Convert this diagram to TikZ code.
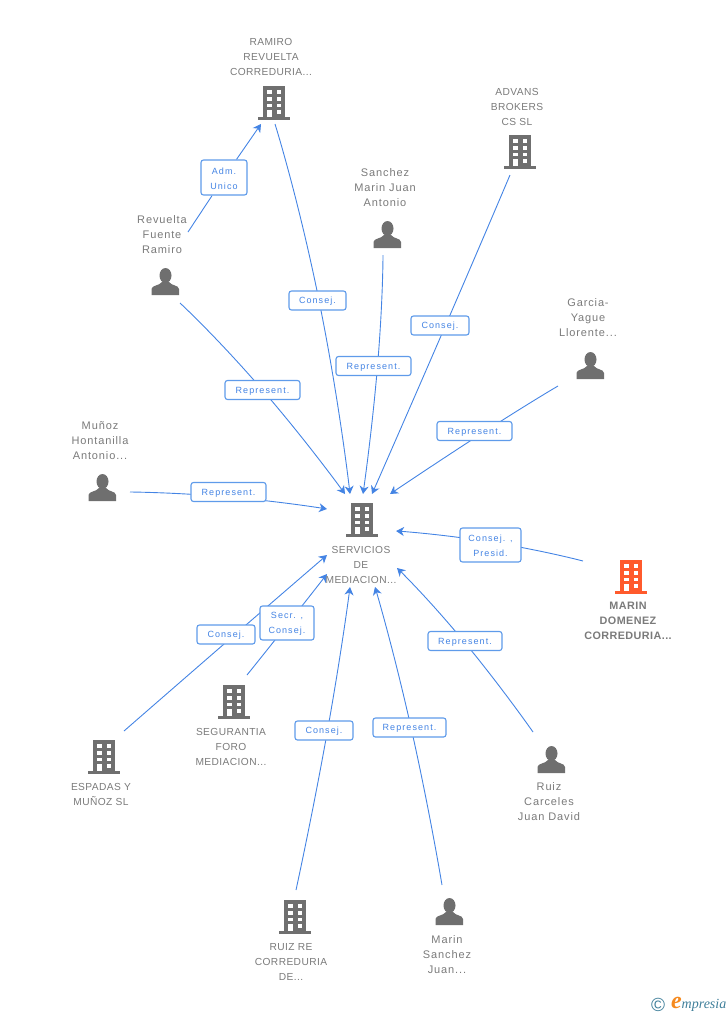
\documentclass[tikz,border=0pt]{standalone}
\usepackage{fontspec}
\setmainfont{Liberation Sans}
\newfontfamily\namefont[LetterSpace=4]{Liberation Sans}
\newfontfamily\lowerfont[LetterSpace=8]{Liberation Sans}
\newfontfamily\tagfont[LetterSpace=12]{Liberation Sans}
\newfontfamily\logofont{Liberation Serif}
\usepackage{xcolor}
\usetikzlibrary{arrows.meta, positioning, backgrounds}
\definecolor{icongray}{HTML}{6F6F6F}
\definecolor{namegray}{HTML}{7A7A7A}
\definecolor{linkblue}{HTML}{4484E4}
\definecolor{tagborder}{HTML}{5F9BEA}
\definecolor{hotorange}{HTML}{FF5A2C}
\definecolor{logoteal}{HTML}{3F7F9A}
\definecolor{logoorange}{HTML}{F58A1F}

\begin{document}
\begin{tikzpicture}[
    x=1pt, y=-1pt,
    iconspot/.style={minimum width=30pt, minimum height=34pt, inner sep=0pt},
    caption/.style={text=namegray, align=center, inner sep=0pt, font=\namefont\fontsize{10.2}{15}\selectfont},
    lowercaption/.style={caption, font=\lowerfont\fontsize{11}{15}\selectfont},
    tagtwo/.style={rectangle, draw=tagborder, fill=white, rounded corners=2.5pt, line width=1.1pt, text=linkblue, align=center, minimum height=34pt, inner sep=0pt, font=\tagfont\fontsize{9}{15}\selectfont},
    tag/.style={tagtwo, minimum height=19pt, text height=8.5pt},
    link/.style={draw=linkblue, line width=0.9pt, -{Stealth[length=8pt,width=9pt,inset=2.5pt]}},
    curved/.style={smooth, tension=1},
    building/.pic={
        \fill[pic actions] (-10.7,-17) rectangle (11.3,14);
        \fill[pic actions] (-15.7,14) rectangle (16,17);
        \foreach \wy in {-12.7,-5.7,0.6} {
            \fill[white] (-7,\wy) rectangle (-2.3,\wy+3.8);
            \fill[white] (2.7,\wy) rectangle (7.3,\wy+3.8);
        }
        \fill[white] (2.7,7) rectangle (7.3,11);
        \fill[white] (-7,7) rectangle (-2.3,14);
    },
    person/.pic={
        \fill[pic actions] (0.5,-6.5) ellipse (6 and 7.5);
        \fill[pic actions] (-13.5,13) -- (-13.5,7) .. controls (-13,3) and (-6,4) .. (-3,0) -- (4,0) .. controls (7,4) and (13.5,3) .. (14,7) -- (14,13) -- cycle;
    }
]
\useasboundingbox (0,0) rectangle (728,1015);

% icons
\node[iconspot] (ramiro) at (274,103) {};
\node[iconspot] (advans) at (520,152) {};
\node[iconspot] (sanchez) at (387,235) {};
\node[iconspot] (garcia) at (590,366) {};
\node[iconspot] (revuelta) at (165,282) {};
\node[iconspot] (munoz) at (102,488) {};
\node[iconspot] (servicios) at (362,520) {};
\node[iconspot] (domenez) at (631,577) {};
\node[iconspot] (carceles) at (551,760) {};
\node[iconspot] (juan) at (449,912) {};
\node[iconspot] (ruizre) at (295,917) {};
\node[iconspot] (segurantia) at (234,702) {};
\node[iconspot] (espadas) at (104,757) {};

\pic[icongray] at (ramiro) {building};
\pic[icongray] at (advans) {building};
\pic[icongray] at (servicios) {building};
\pic[hotorange] at (domenez) {building};
\pic[icongray] at (ruizre) {building};
\pic[icongray] at (segurantia) {building};
\pic[icongray] at (espadas) {building};
\pic[icongray] at (sanchez) {person};
\pic[icongray] at (garcia) {person};
\pic[icongray] at (revuelta) {person};
\pic[icongray] at (munoz) {person};
\pic[icongray] at (carceles) {person};
\pic[icongray] at (juan) {person};

% names
\node[caption, above=10pt of ramiro, xshift=-3pt] (ramiro-name) {RAMIRO\\REVUELTA\\CORREDURIA...};
\node[caption, above=9pt of advans, xshift=-3pt] (advans-name) {ADVANS\\BROKERS\\CS SL};
\node[lowercaption, above=11pt of sanchez, xshift=-2pt] (sanchez-name) {Sanchez\\Marin Juan\\Antonio};
\node[lowercaption, above=12pt of garcia, xshift=-2pt] (garcia-name) {Garcia-\\Yague\\Llorente...};
\node[lowercaption, above=11pt of revuelta, xshift=-3pt] (revuelta-name) {Revuelta\\Fuente\\Ramiro};
\node[lowercaption, above=11pt of munoz, xshift=-2pt] (munoz-name) {Muñoz\\Hontanilla\\Antonio...};
\node[caption, below=9pt of servicios, xshift=-1pt] (servicios-name) {SERVICIOS\\DE\\MEDIACION...};
\node[caption, below=8pt of domenez, xshift=-3pt, font=\namefont\bfseries\fontsize{10.8}{15}\selectfont] (domenez-name) {MARIN\\DOMENEZ\\CORREDURIA...};
\node[lowercaption, below=5pt of carceles, xshift=-2pt] (carceles-name) {Ruiz\\Carceles\\Juan David};
\node[lowercaption, below=6pt of juan, xshift=-2pt] (juan-name) {Marin\\Sanchez\\Juan...};
\node[caption, below=9pt of ruizre, xshift=-4pt] (ruizre-name) {RUIZ RE\\CORREDURIA\\DE...};
\node[caption, below=9pt of segurantia, xshift=-3pt] (segurantia-name) {SEGURANTIA\\FORO\\MEDIACION...};
\node[caption, below=9pt of espadas, xshift=-3pt] (espadas-name) {ESPADAS Y\\MUÑOZ SL};

% tags
\node[tagtwo, minimum width=46pt, minimum height=35pt] (tag-adm) at (224,177.5) {\rule{0pt}{8.5pt}Adm.\\Unico};
\node[tag, minimum width=57pt] (tag-ramiro) at (317.5,300.5) {Consej.};
\node[tag, minimum width=58pt] (tag-advans) at (440,325.5) {Consej.};
\node[tag, minimum width=75pt] (tag-sanchez) at (373.5,366) {Represent.};
\node[tag, minimum width=75pt] (tag-revuelta) at (262.5,390) {Represent.};
\node[tag, minimum width=75pt] (tag-garcia) at (474.5,431) {Represent.};
\node[tag, minimum width=75pt] (tag-munoz) at (228.5,492) {Represent.};
\node[tagtwo, minimum width=61pt] (tag-domenez) at (490.5,545) {\rule{0pt}{8.5pt}Consej. ,\\Presid.};
\node[tagtwo, minimum width=54pt] (tag-segurantia) at (287,623) {\rule{0pt}{8.5pt}Secr. ,\\Consej.};
\node[tag, minimum width=58pt] (tag-espadas) at (226,634.5) {Consej.};
\node[tag, minimum width=74pt] (tag-carceles) at (465,641) {Represent.};
\node[tag, minimum width=58pt] (tag-ruizre) at (324,730.5) {Consej.};
\node[tag, minimum width=73pt] (tag-juan) at (409.5,727.5) {Represent.};

% free ends
\coordinate (revuelta-a) at (188,232);
\coordinate (ramiro-in) at (261,124);
\coordinate (ramiro-out) at (275,124);
\coordinate (sanchez-out) at (383,255);
\coordinate (advans-out) at (510,175);
\coordinate (garcia-out) at (558,386);
\coordinate (revuelta-b) at (180,303);
\coordinate (munoz-out) at (130,492);
\coordinate (domenez-out) at (583,561);
\coordinate (espadas-out) at (124,731);
\coordinate (segurantia-out) at (247,675);
\coordinate (ruizre-out) at (296,890);
\coordinate (juan-out) at (442,885);
\coordinate (carceles-out) at (533,732);
\coordinate (in-ramiro) at (350,494);
\coordinate (in-sanchez) at (363,494);
\coordinate (in-advans) at (372,494);
\coordinate (in-garcia) at (390,494);
\coordinate (in-revuelta) at (345,494);
\coordinate (in-munoz) at (327,509);
\coordinate (in-domenez) at (396,531);
\coordinate (in-espadas) at (327,555);
\coordinate (in-segurantia) at (327,574);
\coordinate (in-ruizre) at (350,587);
\coordinate (in-juan) at (375,587);
\coordinate (in-carceles) at (397,568);

% connectors
\begin{scope}[on background layer]
\draw[link] (revuelta-a) -- (tag-adm) -- (ramiro-in);
\draw[link] plot[curved] coordinates {(ramiro-out) ([xshift=1.5pt]tag-ramiro.center) (in-ramiro)};
\draw[link] plot[curved] coordinates {(sanchez-out) ([xshift=4pt]tag-sanchez.center) (in-sanchez)};
\draw[link] plot[curved] coordinates {(advans-out) ([xshift=5.5pt]tag-advans.center) (in-advans)};
\draw[link] plot[curved] coordinates {(garcia-out) ([xshift=11pt]tag-garcia.center) (in-garcia)};
\draw[link] plot[curved] coordinates {(revuelta-b) (tag-revuelta) (in-revuelta)};
\draw[link] plot[curved] coordinates {(munoz-out) ([yshift=-5pt]tag-munoz.center) (in-munoz)};
\draw[link] plot[curved] coordinates {(domenez-out) ([yshift=3pt]tag-domenez.center) (in-domenez)};
\draw[link] plot[curved] coordinates {(espadas-out) ([xshift=9pt]tag-espadas.center) (in-espadas)};
\draw[link] plot[curved] coordinates {(segurantia-out) ([xshift=1.5pt]tag-segurantia.center) (in-segurantia)};
\draw[link] plot[curved] coordinates {(ruizre-out) ([xshift=3.5pt]tag-ruizre.center) (in-ruizre)};
\draw[link] plot[curved] coordinates {(juan-out) ([xshift=1.5pt]tag-juan.center) (in-juan)};
\draw[link] plot[curved] coordinates {(carceles-out) ([xshift=-1.5pt]tag-carceles.center) (in-carceles)};
\end{scope}

% logo
\node[text=logoteal, inner sep=0pt, font=\fontsize{19}{19}\selectfont] (logo-c) at (658,1004.5) {©};
\node[inner sep=0pt, text=logoorange, font=\logofont\bfseries\itshape\fontsize{24}{24}\selectfont] (logo-e) at (676.5,1003) {e};
\node[right=-0.5pt of logo-e, yshift=-2.5pt, inner sep=0pt, text=logoteal, font=\logofont\itshape\fontsize{14}{14}\selectfont] (logo-rest) {mpresia};
\end{tikzpicture}
\end{document}
